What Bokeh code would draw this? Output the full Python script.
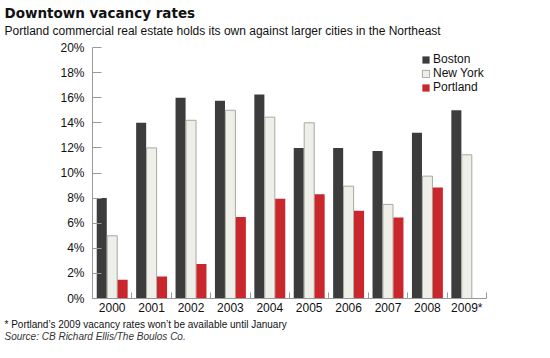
from bokeh.plotting import figure
from bokeh.models import (Range1d, FixedTicker, PrintfTickFormatter, Title, Legend, LegendItem,
                          ColumnDataSource)
from bokeh.embed import file_html
from bokeh.resources import INLINE

years = ["2000", "2001", "2002", "2003", "2004", "2005", "2006", "2007", "2008", "2009*"]
boston = [8.0, 14.0, 16.0, 15.75, 16.25, 12.0, 12.0, 11.75, 13.2, 15.0]
new_york = [5.0, 12.0, 14.2, 15.0, 14.45, 14.0, 8.95, 7.5, 9.75, 11.45]
portland = [1.5, 1.75, 2.75, 6.5, 7.95, 8.3, 7.0, 6.45, 8.85, float("nan")]
y_ticks = [0, 2, 4, 6, 8, 10, 12, 14, 16, 18, 20]

FONT = "Liberation Sans"
W, H = 534, 342
LEFT, TOP, BOTTOM_Y, RIGHT = 92, 47, 298, 486

p = figure(width=W, height=H, output_backend="svg", toolbar_location=None,
           x_range=Range1d(0, len(years)), y_range=Range1d(0, 20),
           min_border_left=LEFT, min_border_right=W - RIGHT,
           min_border_top=TOP, min_border_bottom=H - BOTTOM_Y,
           background_fill_color="white", border_fill_color="white")
p.outline_line_color = None
p.xgrid.visible = False
p.ygrid.visible = False

centers = [i + 0.5 for i in range(len(years))]
src = ColumnDataSource(dict(
    xb=[c - 0.265 for c in centers], xn=centers, xp=[c + 0.265 for c in centers],
    boston=boston, new_york=new_york, portland=portland))

bw = 0.255
rb = p.vbar(x="xb", top="boston", width=bw, source=src, fill_color="#3c3c3c", line_color=None)
rn = p.vbar(x="xn", top="new_york", width=bw, source=src, fill_color="#efefe9",
            line_color="#a8a8a0", line_width=1)
rp = p.vbar(x="xp", top="portland", width=bw, source=src, fill_color="#c9272c", line_color=None)

xa = p.xaxis[0]
xa.ticker = FixedTicker(ticks=centers, minor_ticks=[float(i) for i in range(0, len(years) + 1)])
xa.major_label_overrides = {c: y for c, y in zip(centers, years)}
xa.major_tick_in = 0
xa.major_tick_out = 0
xa.minor_tick_in = 6
xa.minor_tick_out = 0
xa.minor_tick_line_color = "#999999"
xa.axis_line_color = "#999999"
xa.major_label_text_font = FONT
xa.major_label_text_font_size = "12px"
xa.major_label_text_color = "#111111"
xa.major_label_standoff = 2

ya = p.yaxis[0]
ya.ticker = FixedTicker(ticks=y_ticks)
ya.formatter = PrintfTickFormatter(format="%d%%")
ya.major_tick_in = 9
ya.major_tick_out = 0
ya.minor_tick_line_color = None
ya.major_tick_line_color = "#999999"
ya.axis_line_color = "#999999"
ya.major_label_text_font = FONT
ya.major_label_text_font_size = "12px"
ya.major_label_text_color = "#111111"
ya.major_label_standoff = 8

legend = Legend(items=[LegendItem(label="Boston", renderers=[rb]),
                       LegendItem(label="New York", renderers=[rn]),
                       LegendItem(label="Portland", renderers=[rp])],
                location=(421 - LEFT, BOTTOM_Y - 94), padding=0, margin=0, spacing=0,
                glyph_width=9, glyph_height=9, label_height=14, label_standoff=3,
                label_text_font=FONT, label_text_font_size="12px",
                label_text_color="#111111",
                background_fill_alpha=0, border_line_alpha=0)
p.add_layout(legend)

# above: spacer next to the frame, then subtitle, then title (outermost)
p.add_layout(Title(text=" ", text_font_size="1px", standoff=6), "above")
p.add_layout(Title(text="Portland commercial real estate holds its own against larger cities in the Northeast",
                   align="left", offset=4 - LEFT, standoff=2, text_font=FONT,
                   text_font_size="12px", text_font_style="normal", text_color="#111111"), "above")
p.add_layout(Title(text="Downtown vacancy rates", align="left", offset=4 - LEFT, standoff=0,
                   text_font="DejaVu Sans", text_font_size="13.5px", text_font_style="bold",
                   text_color="#111111"), "above")
# below: after the x axis
p.add_layout(Title(text="* Portland\u2019s 2009 vacancy rates won\u2019t be available until January",
                   align="left", offset=4 - LEFT, standoff=-1, text_font=FONT,
                   text_font_size="10px", text_font_style="normal", text_color="#111111"), "below")
p.add_layout(Title(text="Source: CB Richard Ellis/The Boulos Co.", align="left", offset=4 - LEFT,
                   standoff=-1, text_font=FONT, text_font_size="10px", text_font_style="italic",
                   text_color="#333333"), "below")

open("out.html", "w").write(file_html(p, INLINE))
